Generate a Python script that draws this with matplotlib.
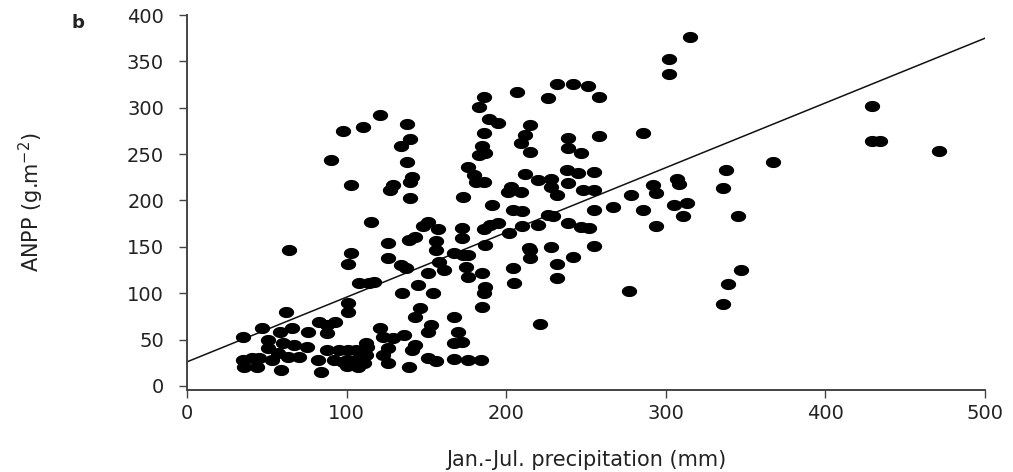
import numpy as np
import matplotlib
matplotlib.use('Agg')
import matplotlib.pyplot as plt
from matplotlib.path import Path

# Jan.-Jul. precipitation (mm) and ANPP (g m-2) per site-year
precip = [
    35, 35, 36, 41, 45, 44, 47, 51, 51, 53, 57, 58, 59, 60, 62, 63, 64, 66,
    67, 70, 75, 76, 82, 83, 84, 88, 88, 88, 92, 93, 95, 98, 100, 100, 101,
    101, 101, 90, 98, 103, 101, 103, 104, 106, 106, 107, 108, 110, 111, 112,
    112, 113, 114, 115, 117,
    121, 121, 123, 123, 126, 126, 126, 126, 129, 129, 127, 134, 134, 135,
    136, 137, 138, 138, 139, 139, 140, 140, 141, 140, 141, 143, 143, 143,
    145, 146, 148, 151, 151, 151, 151, 153, 154, 156, 156, 156, 157, 158,
    161, 167, 167, 167, 167, 170, 172, 172, 172, 173, 173, 175, 176, 176,
    176, 176, 180,
    181, 183, 183, 184, 185, 185, 185, 186, 186, 186, 186, 186, 187, 187,
    187, 189, 190, 191, 195, 195, 201, 202, 203, 204, 204, 205, 207, 209,
    209, 210, 210, 212, 212, 214, 215, 215, 215, 215, 220, 220, 221, 226,
    226, 228, 228, 228, 229, 232, 232, 232, 232, 238, 239, 239, 239, 239,
    242, 242, 245, 247, 247, 248, 251, 252, 255, 255, 255, 255, 258, 258,
    267, 277, 278, 286, 286, 292, 294, 294, 302, 302, 305, 307, 308, 311,
    313, 315, 336, 336, 338, 339, 345, 347, 367, 429, 429, 434, 471,
]
anpp = [
    53, 28, 20, 30, 30, 20, 62, 50, 41, 28, 36, 58, 17, 46, 80, 31, 147, 62,
    44, 31, 42, 58, 28, 69, 15, 66, 57, 39, 28, 69, 39, 26, 28, 21, 39,
    89, 80, 244, 275, 143, 132, 217, 26, 28, 39, 20, 111, 279, 25, 46,
    33, 42, 111, 177, 112,
    292, 62, 53, 33, 154, 138, 41, 25, 52, 217, 211, 259, 130, 100,
    55, 127, 282, 241, 157, 20, 266, 220, 225, 203, 39, 161, 44, 74,
    109, 84, 172, 177, 122, 58, 30, 66, 100, 156, 147, 27, 169, 134,
    125, 143, 74, 46, 29, 58, 47, 170, 160, 141, 204, 128, 141, 118,
    236, 28, 228,
    220, 301, 249, 28, 259, 122, 85, 312, 273, 169, 100, 220, 251, 152,
    107, 288, 174, 195, 284, 176, 209, 165, 215, 190, 127, 111, 317, 262,
    209, 189, 173, 271, 229, 149, 281, 252, 147, 138, 222, 174, 67, 311,
    184, 223, 215, 150, 183, 326, 206, 131, 116, 233, 219, 267, 257, 176,
    326, 139, 230, 251, 171, 211, 323, 170, 231, 211, 190, 151, 312, 270,
    193, 102, 206, 273, 190, 217, 208, 172, 353, 336, 195, 223, 218, 183,
    197, 376, 213, 88, 233, 110, 183, 125, 241, 302, 264, 264, 253,
]

# least-squares line shown on the panel
fit_intercept = 26.0
fit_slope = 0.698

xticks = [0, 100, 200, 300, 400, 500]
yticks = [0, 50, 100, 150, 200, 250, 300, 350, 400]

# slightly flattened dot used for the markers
theta = np.linspace(0, 2 * np.pi, 60)
ellipse = Path(np.column_stack([np.cos(theta), 0.73 * np.sin(theta)]), closed=True)

plt.rcParams['font.family'] = 'DejaVu Sans'
fig = plt.figure(figsize=(10.13, 4.72), dpi=100)
ax = fig.add_axes([0.1846, 0.1744, 0.7878, 0.7938])

ax.scatter(precip, anpp, marker=ellipse, s=11.0 ** 2, color='black',
           linewidths=0, zorder=3)

xs = np.array([0, 500])
ax.plot(xs, fit_intercept + fit_slope * xs, color='#111111', linewidth=1.1,
        zorder=2)

ax.set_xlim(0, 500)
ax.set_ylim(-4, 400)
ax.set_xticks(xticks)
ax.set_yticks(yticks)

for side in ['top', 'right']:
    ax.spines[side].set_visible(False)
for side in ['left', 'bottom']:
    ax.spines[side].set_color('#444444')
    ax.spines[side].set_linewidth(1.4)

ax.tick_params(axis='both', direction='out', length=5.5, width=1.0,
               color='#444444', labelcolor='#222222', labelsize=14)
ax.tick_params(axis='y', pad=11)
ax.tick_params(axis='x', pad=5)

ax.set_xlabel('Jan.-Jul. precipitation (mm)', fontsize=15, color='#222222',
              labelpad=19)
ax.set_ylabel('ANPP (g.m$^{-2}$)', fontsize=15, color='#222222', labelpad=58)

fig.text(0.077, 0.952, 'b', fontsize=13, fontweight='bold', color='#222222',
         ha='center', va='center')

fig.savefig('out.png', dpi=100)
